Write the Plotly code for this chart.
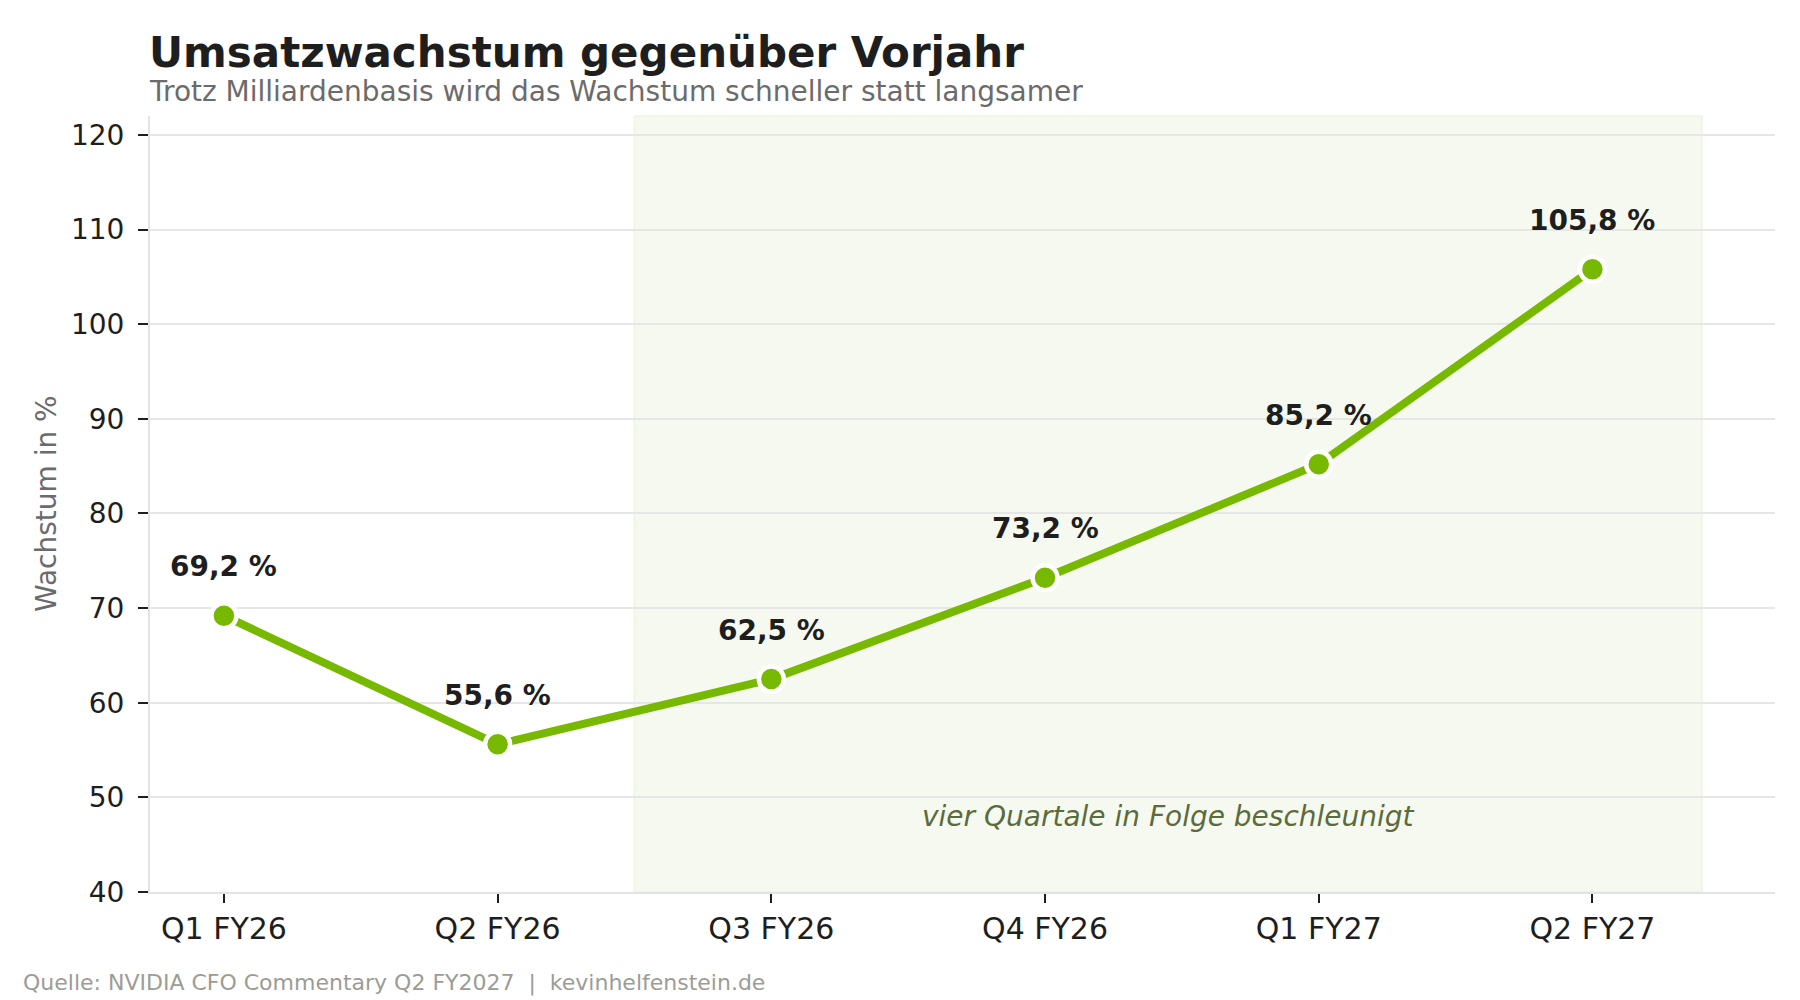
import plotly.graph_objects as go

# Daten
quartale = ["Q1 FY26", "Q2 FY26", "Q3 FY26", "Q4 FY26", "Q1 FY27", "Q2 FY27"]
wachstum = [69.2, 55.6, 62.5, 73.2, 85.2, 105.8]
labels = ["69,2 %", "55,6 %", "62,5 %", "73,2 %", "85,2 %", "105,8 %"]
y_ticks = [40, 50, 60, 70, 80, 90, 100, 110, 120]

GRUEN = "#76b900"
TEXT = "#1e1e1e"
FONT = "DejaVu Sans"

x_idx = list(range(len(quartale)))

fig = go.Figure()
fig.add_trace(go.Scatter(
    x=x_idx, y=wachstum,
    mode="lines+markers",
    line=dict(color=GRUEN, width=8),
    marker=dict(size=25, color=GRUEN, line=dict(color="white", width=4.5)),
    hoverinfo="skip",
    showlegend=False,
    cliponaxis=False,
))

# Beschleunigungsphase hinterlegen
fig.add_shape(type="rect", xref="x", yref="paper",
              x0=1.5, x1=5.4, y0=0, y1=1,
              fillcolor="#f6f9ef", line=dict(color="#eef4e2", width=1.5),
              layer="between")

# Werte-Beschriftungen
for xi, yi, lab in zip(x_idx, wachstum, labels):
    fig.add_annotation(x=xi, y=yi, text=lab, showarrow=False,
                       yshift=49, xanchor="center", yanchor="middle",
                       font=dict(family=FONT, size=28, color=TEXT, weight="bold"))

fig.add_annotation(x=3.45, y=48, text="vier Quartale in Folge beschleunigt",
                   showarrow=False, xanchor="center", yanchor="middle",
                   font=dict(family=FONT, size=28, color="#5b6b3c", style="italic"))

# Titel, Untertitel, Quelle, Achsentitel
fig.add_annotation(xref="paper", yref="paper", x=-0.002, y=1.0819,
                   text="Umsatzwachstum gegenüber Vorjahr", showarrow=False,
                   xanchor="left", yanchor="middle",
                   font=dict(family=FONT, size=42, color=TEXT, weight="bold"))
fig.add_annotation(xref="paper", yref="paper", x=-0.002, y=1.0316,
                   text="Trotz Milliardenbasis wird das Wachstum schneller statt langsamer",
                   showarrow=False, xanchor="left", yanchor="middle",
                   font=dict(family=FONT, size=28, color="#6b6b6b"))
fig.add_annotation(xref="paper", yref="paper", x=-0.0795, y=-0.1173,
                   text="Quelle: NVIDIA CFO Commentary Q2 FY2027  |  kevinhelfenstein.de",
                   showarrow=False, xanchor="left", yanchor="middle",
                   font=dict(family=FONT, size=22, color="#9c9c96"))
fig.add_annotation(xref="paper", yref="paper", x=-0.064, y=0.5,
                   text="Wachstum in %", textangle=-90, showarrow=False,
                   xanchor="center", yanchor="middle",
                   font=dict(family=FONT, size=28, color="#6b6b6b"))

fig.update_xaxes(
    range=[-0.27, 5.667],
    tickmode="array", tickvals=x_idx, ticktext=quartale,
    showgrid=False, zeroline=False,
    showline=True, linecolor="#e3e3e3", linewidth=2,
    ticks="outside", ticklen=9, tickwidth=2, tickcolor=TEXT,
    tickfont=dict(family=FONT, size=30, color=TEXT),
)
fig.update_yaxes(
    range=[40, 122],
    tickmode="array", tickvals=y_ticks,
    showgrid=True, gridcolor="#e6e6e6", gridwidth=2,
    zeroline=False,
    showline=True, linecolor="#e3e3e3", linewidth=2,
    ticks="outside", ticklen=10, tickwidth=2, tickcolor=TEXT,
    ticklabelstandoff=8,
    tickfont=dict(family=FONT, size=28, color=TEXT),
)

fig.update_layout(
    width=1800, height=1000,
    margin=dict(l=150, r=25, t=116, b=108),
    plot_bgcolor="white", paper_bgcolor="white",
    font=dict(family=FONT),
)

# Seitenrand des Browsers entfernen, damit die Grafik bei (0,0) beginnt
fig.write_html("out.html",
               config={"displayModeBar": False},
               post_script="document.body.style.margin='0';document.body.style.overflow='hidden';")
